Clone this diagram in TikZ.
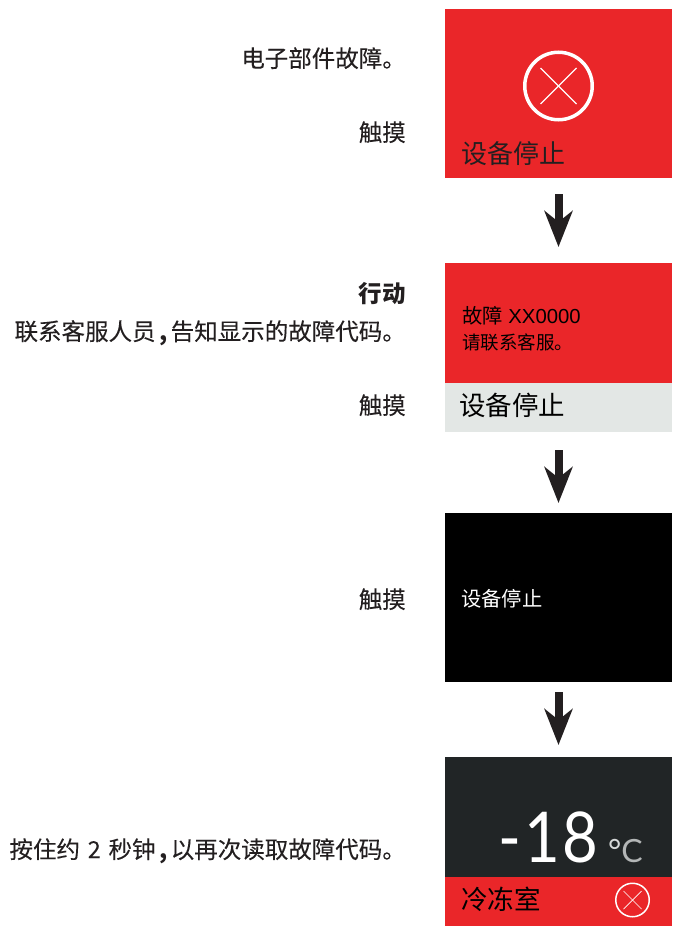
\documentclass[tikz,border=0pt]{standalone}
\usepackage{fontspec}
\usetikzlibrary{arrows.meta}
\setmainfont{Liberation Sans}
\newfontfamily\cjk{Noto Sans CJK SC}
\newfontfamily\cjknote[FakeBold=0.15]{Noto Sans CJK SC}
\newfontfamily\digits[FakeStretch=0.88]{Lato}
\newfontfamily\unitfont{Lato}
\definecolor{panelred}{HTML}{EA2629}
\definecolor{panelgrey}{HTML}{E3E7E5}
\definecolor{paneldark}{HTML}{212526}
\definecolor{inkdark}{HTML}{231F20}
\definecolor{unitgrey}{HTML}{B3B6B6}
\definecolor{unitlight}{HTML}{D5D8D8}
\newcommand{\boldcomma}{\hspace{4pt}{\cjk\bfseries ,}\hspace{3pt}}
\tikzset{
  x=1pt,y=-1pt,
  panel/.style={rectangle,inner sep=0pt,outer sep=0pt,minimum width=227pt,anchor=north west},
  note/.style={inner sep=0pt,anchor=mid east,text=inkdark,font=\fontsize{23.5}{25}\selectfont\cjknote},
  screentext/.style={inner sep=0pt,anchor=mid west,font=\cjk},
  flowarrow/.style={draw=inkdark,line width=8pt,-{Stealth[length=36pt,width=28pt,inset=11pt,fill=inkdark]}},
  faultring/.style={draw=white,line width=#1,fill=none},
  faultcross/.style={draw=white,line width=#1},
}
\begin{document}
\begin{tikzpicture}
\useasboundingbox (0,0) rectangle (681,926);
% panels
\node[panel,fill=panelred,minimum height=169pt] (p1) at (445,9) {};
\node[panel,fill=panelred,minimum height=120pt] (p2a) at (445,263) {};
\node[panel,fill=panelgrey,minimum height=49pt] (p2b) at (445,383) {};
\node[panel,fill=black,minimum height=169pt] (p3) at (445,513) {};
\node[panel,fill=paneldark,minimum height=120pt] (p4a) at (445,757) {};
\node[panel,fill=panelred,minimum height=49pt] (p4b) at (445,877) {};
% arrows
\draw[flowarrow] ([yshift=-16pt]p1.south) -- ([yshift=16pt]p2a.north);
\draw[flowarrow] ([yshift=-18pt]p2b.south) -- ([yshift=10pt]p3.north);
\draw[flowarrow] ([yshift=-10pt]p3.south) -- ([yshift=12pt]p4a.north);
% large fault symbol
\node[circle,faultring=3.5pt,minimum size=67.5pt,inner sep=0pt] (bigring) at (558.5,86) {};
\draw[faultcross=1.2pt] (540.5,68) -- (576.5,104);
\draw[faultcross=1.2pt] (576.5,68) -- (540.5,104);
% small fault symbol
\node[circle,faultring=1.5pt,minimum size=33.5pt,inner sep=0pt] (smallring) at (632.5,900) {};
\draw[faultcross=0.7pt] (623.5,891) -- (641.5,909);
\draw[faultcross=0.7pt] (641.5,891) -- (623.5,909);
% screen text
\node[screentext,text=inkdark,font=\fontsize{26}{28}\selectfont\cjk] (t1) at (461,161) {设备停止};
\node[screentext,text=black,font=\fontsize{20.3}{22}\selectfont] (t2) at (462,320.5) {{\cjk 故障} XX0000};
\node[screentext,text=black,font=\fontsize{18.5}{20}\selectfont\cjk] (t3) at (462,347) {请联系客服。};
\node[screentext,text=black,font=\fontsize{26.5}{28}\selectfont\cjk] (t4) at (459,413) {设备停止};
\node[screentext,text=white,font=\fontsize{20.3}{22}\selectfont\cjk] (t5) at (461,604) {设备停止};
\node[inner sep=0pt,anchor=base west,text=white,font=\fontsize{70}{72}\selectfont\digits] (t6) at (498,862) {-\kern3pt 1\kern3pt 8};
\node[inner sep=0pt,anchor=base west,text=unitgrey,font=\fontsize{32}{34}\selectfont\unitfont] (t7) at (608,862) {{\color{unitlight}°}C};
\node[screentext,text=black,font=\fontsize{26.5}{28}\selectfont\cjk] (t8) at (461,907) {冷冻室};
% left notes
\node[note] (n1) at (406,64.5) {电子部件故障。};
\node[note] (n2) at (406,138.5) {触摸};
\node[note,font=\fontsize{23.5}{25}\selectfont\cjk\bfseries] (n3) at (406,299.5) {行动};
\node[note] (n4) at (406,337.5) {联系客服人员\boldcomma 告知显示的故障代码。};
\node[note] (n5) at (406,411.5) {触摸};
\node[note] (n6) at (406,605.5) {触摸};
\node[note] (n7) at (406,855.5) {按住约\hspace{2.5pt} 2 \hspace{2.5pt}秒钟\boldcomma 以再次读取故障代码。};
\end{tikzpicture}
\end{document}
